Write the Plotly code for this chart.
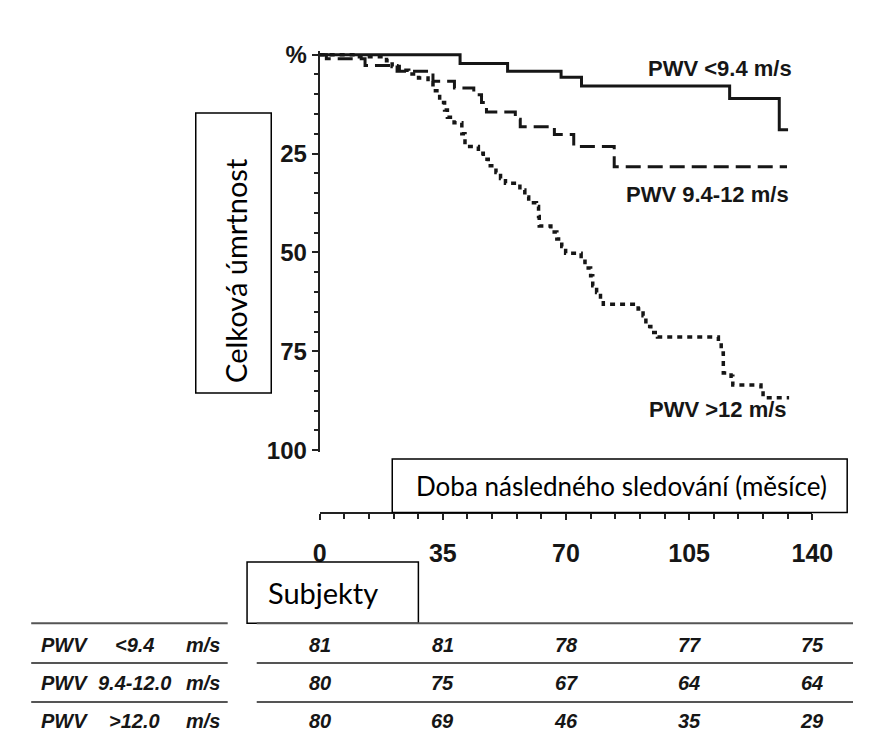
import plotly.graph_objects as go

# ---------------- data ----------------
# Kaplan-Meier style cumulative mortality (%) vs follow-up (months)
months_low = [0, 39.9, 53.4, 68.6, 74.4, 116.5, 130.6, 133.1]
mort_low = [0, 2.2, 4.2, 5.7, 7.9, 11.1, 19.0, 19.0]

months_mid = [0, 1.9, 12.9, 22.0, 32.2, 38.3, 43.8, 46.0, 47.4, 55.6, 57.0, 66.7, 72.2, 83.7, 132.8]
mort_mid = [0, 1.0, 2.7, 4.2, 6.7, 8.4, 10.1, 12.1, 14.5, 16.3, 18.2, 20.2, 23.2, 28.3, 28.3]

months_high = [0, 10.2, 19.0, 20.6, 22.6, 25.3, 28.1, 30.8, 32.2, 34.1, 35.5, 36.3, 38.2, 40.4,
               41.3, 45.1, 46.5, 47.9, 50.1, 51.4, 52.8, 56.9, 58.3, 59.4, 61.6, 62.2, 62.4,
               65.7, 67.4, 68.8, 69.9, 74.3, 75.4, 77.0, 77.6, 78.7, 79.8, 80.6, 90.5, 91.9,
               92.7, 94.1, 96.0, 113.3, 114.1, 114.7, 116.9, 117.4, 125.4, 126.0, 133.4]
mort_high = [0, 0.5, 1.5, 3.0, 3.9, 4.9, 5.9, 7.1, 9.1, 12.1, 14.0, 15.8, 17.2, 20.0,
             23.2, 24.9, 26.4, 28.1, 29.8, 31.3, 32.5, 34.2, 36.0, 37.4, 38.4, 40.9, 43.3,
             44.8, 46.6, 48.5, 50.2, 52.2, 53.9, 55.9, 58.4, 60.1, 61.8, 63.1, 64.3, 66.0,
             68.7, 70.2, 71.4, 72.9, 75.4, 80.5, 81.3, 83.5, 84.5, 86.7, 86.7]

series_labels = ["PWV &lt;9.4 m/s", "PWV 9.4-12 m/s", "PWV &gt;12 m/s"]

x_tickvals = [0, 35, 70, 105, 140]
x_ticktext = ["0", "35", "70", "105", "140"]
y_tickvals = [0, 25, 50, 75, 100]
y_ticktext = ["%", "25", "50", "75", "100"]

table_rows = [("PWV", "&lt;9.4", "m/s"), ("PWV", "9.4-12.0", "m/s"), ("PWV", "&gt;12.0", "m/s")]
table_counts = [
    [81, 81, 78, 77, 75],
    [80, 75, 67, 64, 64],
    [80, 69, 46, 35, 29],
]

y_title = "Celková úmrtnost"
x_title = "Doba následného sledování (měsíce)"
table_title = "Subjekty"

# ---------------- layout helpers ----------------
W, H = 874, 746


def fx(p):
    return p / W


def fy(p):
    return 1 - p / H


SANS = "Liberation Sans, Arial, Helvetica, sans-serif"
CAL = "Lato, Open Sans, sans-serif"
INK = "#161616"

fig = go.Figure()

fig.add_trace(go.Scatter(x=months_low, y=mort_low, mode="lines", line_shape="hv",
                         line=dict(color=INK, width=3), showlegend=False))
fig.add_trace(go.Scatter(x=months_mid, y=mort_mid, mode="lines", line_shape="hv",
                         line=dict(color=INK, width=3, dash="15px,7px"), showlegend=False))
fig.add_trace(go.Scatter(x=months_high, y=mort_high, mode="lines", line_shape="hv",
                         line=dict(color=INK, width=3.5, dash="5px,5px"), showlegend=False))

# y axis: 0% at px 46, 100% at px 453
ppp = (453 - 46) / 100.0
y_lo, y_hi = 100.5, -1.0
fig.update_layout(
    width=W, height=H,
    margin=dict(l=0, r=0, t=0, b=0),
    paper_bgcolor="white", plot_bgcolor="rgba(0,0,0,0)",
    xaxis=dict(
        domain=[fx(323), fx(832)], range=[0, 140], anchor="free", position=fy(518),
        showline=True, linecolor="#222", linewidth=2, showgrid=False, zeroline=False,
        ticks="outside", ticklen=6, tickwidth=2, tickcolor="#222",
        tickvals=x_tickvals, ticktext=x_ticktext,
        tickfont=dict(family=SANS, size=25, color=INK, weight="bold"),
        ticklabelstandoff=12,
        minor=dict(dtick=7, ticks="outside", ticklen=5, tickwidth=1.5, tickcolor="#222"),
    ),
    yaxis=dict(
        domain=[fy(453 + 0.5 * ppp), fy(46 - 1.0 * ppp)], range=[y_lo, y_hi], anchor="x",
        showline=True, linecolor="#222", linewidth=2, showgrid=False, zeroline=False,
        ticks="outside", ticklen=6, tickwidth=2, tickcolor="#222",
        tickvals=y_tickvals, ticktext=y_ticktext,
        tickfont=dict(family=SANS, size=24, color=INK, weight="bold"),
        minor=dict(dtick=5, ticks="outside", ticklen=4, tickwidth=1.5, tickcolor="#222"),
    ),
)

shapes = []
annotations = []

# curve labels
label_pos = [(737, 60), (724, 190), (735, 411)]
for (lx, ly), txt in zip(label_pos, series_labels):
    annotations.append(dict(x=fx(lx), y=fy(ly), xref="paper", yref="paper", text=txt,
                            showarrow=False, xanchor="center", yanchor="middle",
                            font=dict(family=SANS, size=22, color=INK, weight="bold")))

# y title box
shapes.append(dict(type="rect", xref="paper", yref="paper", x0=fx(195), x1=fx(273),
                   y0=fy(394), y1=fy(106), line=dict(color="black", width=1.5)))
annotations.append(dict(x=fx(236), y=fy(268), xref="paper", yref="paper", text=y_title,
                        textangle=-90, showarrow=False, xanchor="center", yanchor="middle",
                        font=dict(family=CAL, size=29, color="black")))

# x title box
shapes.append(dict(type="rect", xref="paper", yref="paper", x0=fx(398), x1=fx(868),
                   y0=fy(517), y1=fy(462), line=dict(color="black", width=1.5)))
annotations.append(dict(x=fx(420), y=fy(490), xref="paper", yref="paper", text=x_title,
                        showarrow=False, xanchor="left", yanchor="middle",
                        font=dict(family=CAL, size=26, color="black")))

# Subjekty box
shapes.append(dict(type="rect", xref="paper", yref="paper", x0=fx(248), x1=fx(425),
                   y0=fy(631), y1=fy(568), line=dict(color="black", width=1.5)))
annotations.append(dict(x=fx(268), y=fy(599), xref="paper", yref="paper", text=table_title,
                        showarrow=False, xanchor="left", yanchor="middle",
                        font=dict(family=CAL, size=29, color="black")))

# table rules
for ly in [631, 672, 712]:
    shapes.append(dict(type="line", xref="paper", yref="paper", x0=fx(25), x1=fx(228),
                       y0=fy(ly), y1=fy(ly), line=dict(color="#555", width=2)))
    shapes.append(dict(type="line", xref="paper", yref="paper", x0=fx(258), x1=fx(874),
                       y0=fy(ly), y1=fy(ly), line=dict(color="#555", width=2)))

row_y = [653, 692, 732]
tfont = dict(family=SANS, size=20, color=INK, weight="bold", style="italic")
for (a, b, c), ry, counts in zip(table_rows, row_y, table_counts):
    annotations.append(dict(x=fx(33), y=fy(ry), xref="paper", yref="paper", text=a,
                            showarrow=False, xanchor="left", yanchor="middle", font=tfont))
    annotations.append(dict(x=fx(132), y=fy(ry), xref="paper", yref="paper", text=b,
                            showarrow=False, xanchor="center", yanchor="middle", font=tfont))
    annotations.append(dict(x=fx(222), y=fy(ry), xref="paper", yref="paper", text=c,
                            showarrow=False, xanchor="right", yanchor="middle", font=tfont))
    for tv, n in zip(x_tickvals, counts):
        annotations.append(dict(x=tv, y=fy(ry), xref="x", yref="paper", text=str(n),
                                showarrow=False, xanchor="center", yanchor="middle", font=tfont))

fig.update_layout(shapes=shapes, annotations=annotations)
fig.write_html("out.html")
